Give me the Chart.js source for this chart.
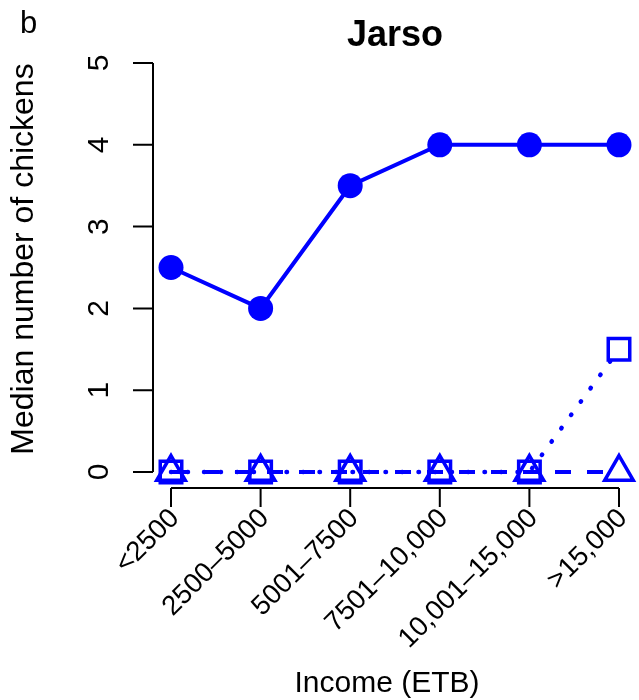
<!DOCTYPE html>
<html>
<head>
<meta charset="utf-8">
<title>Jarso</title>
<script src="https://cdn.jsdelivr.net/npm/chart.js@4.4.1/dist/chart.umd.min.js"></script>
<style>
    html, body { margin: 0; padding: 0; background: #fff; }
    #chart { display: block; }
</style>
</head>
<body>
<canvas id="chart" width="639" height="700"></canvas>
<script>
// DATA
var incomeBands = ["<2500", "2500\u20135000", "5001\u20137500", "7501\u201310,000", "10,001\u201315,000", ">15,000"];
var circleSeries = [2.5, 2, 3.5, 4, 4, 4];
var squareSeries = [0, 0, 0, 0, 0, 1.5];
var triangleSeries = [0, 0, 0, 0, 0, 0];
var yTicks = [0, 1, 2, 3, 4, 5];

var BLUE = "#0000ff";
var FONT = "'Liberation Sans', Arial, Helvetica, sans-serif";

// R STYLE AXES + TEXT
var baseAxes = {
    id: "baseAxes",
    afterDraw: function (chart) {
        var ctx = chart.ctx;
        var xs = chart.scales.x;
        var ys = chart.scales.y;
        var area = chart.chartArea;
        var axisX = area.left - 18;
        var axisY = area.bottom + 16;

        ctx.save();
        ctx.strokeStyle = "#000";
        ctx.fillStyle = "#000";
        ctx.lineWidth = 2;

        // y axis
        ctx.beginPath();
        ctx.moveTo(axisX, ys.getPixelForValue(yTicks[0]));
        ctx.lineTo(axisX, ys.getPixelForValue(yTicks[yTicks.length - 1]));
        yTicks.forEach(function (t) {
            var py = ys.getPixelForValue(t);
            ctx.moveTo(axisX, py);
            ctx.lineTo(axisX - 20, py);
        });
        ctx.stroke();

        ctx.font = "30px " + FONT;
        ctx.textAlign = "center";
        ctx.textBaseline = "alphabetic";
        yTicks.forEach(function (t) {
            ctx.save();
            ctx.translate(axisX - 45, ys.getPixelForValue(t));
            ctx.rotate(-Math.PI / 2);
            ctx.fillText(String(t), 0, 0);
            ctx.restore();
        });

        // x axis
        ctx.beginPath();
        ctx.moveTo(xs.getPixelForValue(0), axisY);
        ctx.lineTo(xs.getPixelForValue(incomeBands.length - 1), axisY);
        incomeBands.forEach(function (b, i) {
            var px = xs.getPixelForValue(i);
            ctx.moveTo(px, axisY);
            ctx.lineTo(px, axisY + 19);
        });
        ctx.stroke();

        ctx.font = "27.5px " + FONT;
        ctx.textAlign = "right";
        ctx.textBaseline = "middle";
        incomeBands.forEach(function (b, i) {
            ctx.save();
            ctx.translate(xs.getPixelForValue(i) + 4, axisY + 26);
            ctx.rotate(-Math.PI / 4);
            ctx.fillText(b, 0, 0);
            ctx.restore();
        });

        // titles
        ctx.textBaseline = "alphabetic";
        ctx.textAlign = "center";
        ctx.font = "30px " + FONT;
        ctx.fillText("Income (ETB)", 387, 692);

        ctx.save();
        ctx.font = "32px " + FONT;
        ctx.translate(33, 259);
        ctx.rotate(-Math.PI / 2);
        ctx.fillText("Median number of chickens", 0, 0);
        ctx.restore();

        ctx.font = "bold 36px " + FONT;
        ctx.fillText("Jarso", 395, 46);

        ctx.textAlign = "left";
        ctx.font = "31px " + FONT;
        ctx.fillText("b", 20, 33);
        ctx.restore();
    },
};

var ctx = document.getElementById("chart");
var myChart = new Chart(ctx, {
    type: "line",
    data: {
        labels: incomeBands,
        datasets: [
            {
                label: "circles",
                data: circleSeries,
                borderColor: BLUE,
                backgroundColor: BLUE,
                borderWidth: 4,
                pointStyle: "circle",
                pointRadius: 12.5,
                pointBackgroundColor: BLUE,
                pointBorderWidth: 0,
                clip: false,
            },
            {
                label: "squares",
                data: squareSeries,
                borderColor: BLUE,
                borderWidth: 4.5,
                borderDash: [0.5, 16],
                borderCapStyle: "round",
                pointStyle: "rect",
                pointRadius: 15.2,
                pointBackgroundColor: "rgba(0,0,0,0)",
                pointBorderColor: BLUE,
                pointBorderWidth: 3.5,
                clip: false,
            },
            {
                label: "triangles",
                data: triangleSeries,
                borderColor: BLUE,
                borderWidth: 4,
                borderDash: [16, 16],
                pointStyle: "triangle",
                pointRadius: 16.5,
                pointBackgroundColor: "rgba(0,0,0,0)",
                pointBorderColor: BLUE,
                pointBorderWidth: 3.5,
                clip: false,
            },
        ],
    },
    options: {
        responsive: false,
        animation: false,
        events: [],
        layout: {
            padding: { left: 171, right: 18, top: 63, bottom: 228 },
        },
        plugins: {
            legend: { display: false },
            tooltip: { enabled: false },
            title: { display: false },
        },
        scales: {
            x: { display: false, offset: false },
            y: { display: false, min: 0, max: 5 },
        },
    },
    plugins: [baseAxes],
});
</script>
</body>
</html>
